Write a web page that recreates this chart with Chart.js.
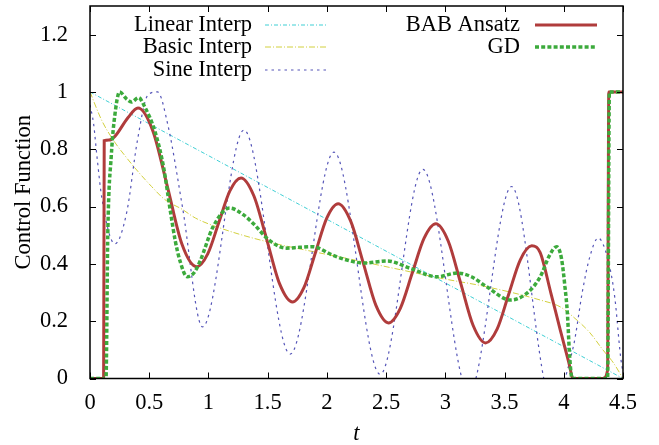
<!DOCTYPE html>
<html>
<head>
<meta charset="utf-8">
<script src="https://cdn.jsdelivr.net/npm/chart.js@4.4.1/dist/chart.umd.min.js"></script>
<style>
  html, body { margin: 0; padding: 0; background: #fff; }
  canvas { display: block; }
</style>
</head>
<body>
<canvas id="chart" width="659" height="445"></canvas>
<script>
// axis ticks
const xTicks = [0, 0.5, 1, 1.5, 2, 2.5, 3, 3.5, 4, 4.5];
const xTickLabels = ['0', '0.5', '1', '1.5', '2', '2.5', '3', '3.5', '4', '4.5'];
const yTicks = [0, 0.2, 0.4, 0.6, 0.8, 1, 1.2];
const yTickLabels = ['0', '0.2', '0.4', '0.6', '0.8', '1', '1.2'];

const seriesNames = ['Linear Interp', 'Basic Interp', 'Sine Interp', 'BAB Ansatz', 'GD'];

// series (t, value)
const linearT = [0, 4.5];
const linearV = [1, 0];

const basicT = [0, 0.1, 0.2, 0.3, 0.41, 0.52, 0.63, 0.78, 0.89, 1.1, 1.44, 1.94, 2.11, 2.56, 2.96, 3.35, 3.8, 3.97, 4.08, 4.22, 4.33, 4.42, 4.5];
const basicV = [1, 0.9, 0.83, 0.775, 0.72, 0.67, 0.625, 0.59, 0.56, 0.525, 0.483, 0.438, 0.424, 0.385, 0.35, 0.32, 0.274, 0.25, 0.215, 0.16, 0.1, 0.054, 0];

const sineT = [0, 0.03, 0.06, 0.1, 0.21, 0.31, 0.4, 0.49, 0.57, 0.66, 0.78, 0.95, 1.3, 1.69, 2.06, 2.45, 2.81, 3.2, 3.56, 3.9, 4.08, 4.16, 4.22, 4.29, 4.37, 4.43, 4.48, 4.5];
const sineV = [0.955, 0.89, 0.77, 0.63, 0.47, 0.58, 0.83, 0.99, 1.0, 0.88, 0.6, 0.18, 0.867, 0.085, 0.79, 0.015, 0.73, -0.05, 0.67, -0.08, 0.11, 0.31, 0.425, 0.49, 0.42, 0.285, 0.075, 0.02];

const babT = [0, 0.115, 0.12, 0.16, 0.21, 0.32, 0.405, 0.53, 0.655, 0.775, 0.9, 0.994, 1.088, 1.181, 1.275, 1.384, 1.493, 1.601, 1.71, 1.806, 1.903, 1.999, 2.095, 2.201, 2.308, 2.414, 2.52, 2.62, 2.72, 2.82, 2.92, 3.025, 3.13, 3.235, 3.34, 3.438, 3.535, 3.633, 3.73, 3.8, 3.89, 3.97, 4.04, 4.08, 4.33, 4.37, 4.38, 4.5];
const babV = [0, 0, 0.83, 0.832, 0.845, 0.91, 0.944, 0.865, 0.667, 0.47, 0.39, 0.435, 0.545, 0.655, 0.7, 0.637, 0.484, 0.33, 0.267, 0.317, 0.439, 0.56, 0.61, 0.549, 0.402, 0.255, 0.194, 0.245, 0.367, 0.489, 0.54, 0.479, 0.332, 0.185, 0.124, 0.173, 0.294, 0.414, 0.463, 0.44, 0.3, 0.17, 0.06, 0, 0, 0.03, 1, 1];

const gdT = [0, 0.135, 0.15, 0.18, 0.21, 0.25, 0.31, 0.35, 0.41, 0.46, 0.55, 0.62, 0.68, 0.72, 0.76, 0.82, 0.88, 0.93, 1.04, 1.18, 1.3, 1.38, 1.52, 1.66, 1.77, 1.88, 2.05, 2.2, 2.31, 2.51, 2.7, 2.93, 3.1, 3.22, 3.35, 3.55, 3.69, 3.8, 3.88, 3.94, 3.98, 4.01, 4.03, 4.05, 4.07, 4.37, 4.385, 4.5];
const gdV = [0, 0, 0.5, 0.78, 0.92, 1.0, 0.975, 0.965, 0.98, 0.95, 0.86, 0.74, 0.58, 0.48, 0.41, 0.355, 0.37, 0.41, 0.53, 0.595, 0.57, 0.54, 0.48, 0.455, 0.458, 0.46, 0.43, 0.41, 0.403, 0.41, 0.385, 0.355, 0.368, 0.355, 0.32, 0.274, 0.298, 0.354, 0.43, 0.46, 0.42, 0.32, 0.23, 0.075, 0, 0, 1, 1];

const toPoints = (ts, vs) => ts.map((t, i) => ({ x: t, y: vs[i] }));

const FONT = '"Liberation Serif", "Times New Roman", serif';
const FONT_SIZE = 22.5;

// gnuplot-like frame with inward ticks + key
const framePlugin = {
  id: 'frame',
  afterDatasetsDraw(chart) {
    const { ctx, chartArea: a, scales: { x, y } } = chart;
    ctx.save();
    ctx.strokeStyle = '#000';
    ctx.lineWidth = 1;
    ctx.setLineDash([]);
    ctx.beginPath();
    xTicks.forEach(v => {
      const px = Math.round(x.getPixelForValue(v)) + 0.5;
      ctx.moveTo(px, a.bottom); ctx.lineTo(px, a.bottom - 6);
      ctx.moveTo(px, a.top); ctx.lineTo(px, a.top + 6);
    });
    yTicks.forEach(v => {
      const py = Math.round(y.getPixelForValue(v)) + 0.5;
      ctx.moveTo(a.left, py); ctx.lineTo(a.left + 6, py);
      ctx.moveTo(a.right, py); ctx.lineTo(a.right - 6, py);
    });
    ctx.stroke();
    ctx.lineWidth = 1.5;
    ctx.strokeRect(a.left, a.top, a.right - a.left, a.bottom - a.top);

    // key
    const keys = [
      { ds: 0, tx: 252, y: 25, x1: 265, x2: 328 },
      { ds: 1, tx: 252, y: 47, x1: 265, x2: 328 },
      { ds: 2, tx: 252, y: 70, x1: 265, x2: 328 },
      { ds: 3, tx: 520, y: 25, x1: 535, x2: 597 },
      { ds: 4, tx: 520, y: 47, x1: 535, x2: 597 }
    ];
    ctx.font = FONT_SIZE + 'px ' + FONT;
    ctx.textAlign = 'right';
    ctx.textBaseline = 'middle';
    keys.forEach(k => {
      const d = chart.data.datasets[k.ds];
      ctx.fillStyle = '#000';
      ctx.fillText(d.label, k.tx, k.y);
      ctx.strokeStyle = d.borderColor;
      ctx.lineWidth = d.borderWidth;
      ctx.setLineDash(d.borderDash || []);
      ctx.beginPath();
      ctx.moveTo(k.x1, k.y);
      ctx.lineTo(k.x2, k.y);
      ctx.stroke();
    });
    ctx.restore();
  }
};

new Chart(document.getElementById('chart'), {
  type: 'line',
  data: {
    datasets: [
      { label: seriesNames[0], data: toPoints(linearT, linearV), borderColor: '#3fcfd4', borderWidth: 1, borderDash: [4, 2, 1, 2], order: 4 },
      { label: seriesNames[1], data: toPoints(basicT, basicV), borderColor: '#d2d03e', borderWidth: 1, borderDash: [6, 2, 1, 2], cubicInterpolationMode: 'monotone', order: 3 },
      { label: seriesNames[2], data: toPoints(sineT, sineV), borderColor: '#5555b8', borderWidth: 1.2, borderDash: [2.5, 4], cubicInterpolationMode: 'monotone', order: 2 },
      { label: seriesNames[3], data: toPoints(babT, babV), borderColor: '#b03c3c', borderWidth: 3, cubicInterpolationMode: 'monotone', order: 1 },
      { label: seriesNames[4], data: toPoints(gdT, gdV), borderColor: '#3caa3c', borderWidth: 3.5, borderDash: [4, 2.2], cubicInterpolationMode: 'monotone', order: 0 }
    ]
  },
  options: {
    responsive: false,
    animation: false,
    layout: { padding: { top: 6, right: 36, bottom: 0, left: 0 } },
    elements: { point: { radius: 0 }, line: { fill: false } },
    plugins: { legend: { display: false }, tooltip: { enabled: false } },
    scales: {
      x: {
        type: 'linear',
        min: 0,
        max: 4.5,
        grid: { display: false },
        border: { display: false },
        afterBuildTicks: s => { s.ticks = xTicks.map(v => ({ value: v })); },
        afterFit: s => { s.height = 66.5; s.paddingLeft = 0; s.paddingRight = 0; },
        ticks: {
          color: '#000',
          padding: 3,
          maxRotation: 0,
          font: { family: FONT, size: FONT_SIZE },
          callback: (v, i) => xTickLabels[i]
        },
        title: {
          display: true,
          text: 't',
          color: '#000',
          padding: { top: 0, bottom: 0 },
          font: { family: FONT, size: FONT_SIZE, style: 'italic', lineHeight: 1 }
        }
      },
      y: {
        min: 0,
        max: 1.3,
        grid: { display: false },
        border: { display: false },
        afterBuildTicks: s => { s.ticks = yTicks.map(v => ({ value: v })); },
        afterFit: s => { s.width = 90; s.paddingTop = 0; s.paddingBottom = 0; },
        ticks: {
          color: '#000',
          padding: 14,
          font: { family: FONT, size: FONT_SIZE },
          callback: (v, i) => yTickLabels[i]
        },
        title: {
          display: true,
          text: 'Control Function',
          color: '#000',
          padding: { top: 11, bottom: 0 },
          font: { family: FONT, size: FONT_SIZE }
        }
      }
    }
  },
  plugins: [framePlugin]
});
</script>
</body>
</html>
